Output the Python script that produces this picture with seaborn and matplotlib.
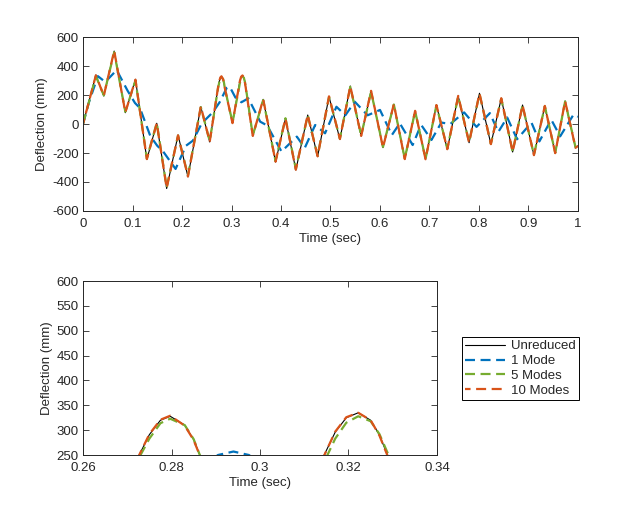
import numpy as np
import pandas as pd
import matplotlib
matplotlib.use("Agg")
import matplotlib.pyplot as plt
import seaborn as sns

sns.set_style("ticks", {"xtick.direction": "in", "ytick.direction": "in"})
plt.rcParams['font.family'] = ['Liberation Sans', 'DejaVu Sans']
plt.rcParams['axes.unicode_minus'] = False

# time (sec) and deflection (mm)
t_full = [0.000, 0.026, 0.042, 0.063, 0.0855, 0.106, 0.129, 0.149, 0.169, 0.192,
          0.212, 0.238, 0.256, 0.2727, 0.275, 0.2775, 0.2797, 0.283, 0.285, 0.2864,
          0.302, 0.3145, 0.317, 0.3195, 0.3222, 0.325, 0.327, 0.3288, 0.343, 0.364,
          0.389, 0.409, 0.430, 0.454, 0.474, 0.497, 0.519, 0.540, 0.562, 0.582,
          0.606, 0.628, 0.650, 0.671, 0.692, 0.714, 0.736, 0.758, 0.780, 0.801,
          0.824, 0.845, 0.868, 0.888, 0.911, 0.933, 0.954, 0.974, 0.995, 1.000]

unreduced = [0, 338, 193, 503, 78, 308, -244, 5, -445, -76,
             -364, 119, -124, 250, 291, 320, 328, 310, 281, 250,
             5, 250, 296, 325, 335, 320, 290, 250, -83, 170,
             -262, 37, -317, 62, -225, 190, -106, 262, -83, 228,
             -163, 136, -244, 90, -244, 131, -175, 193, -129, 212,
             -140, 177, -193, 131, -216, 124, -202, 159, -165, -150]

modes_10 = [0, 336, 195, 505, 80, 306, -242, 5, -442, -78,
            -362, 121, -122, 250, 292, 321, 329, 309, 280, 249,
            6, 249, 297, 326, 335, 320, 289, 249, -82, 171,
            -260, 38, -315, 63, -223, 191, -104, 261, -82, 229,
            -162, 137, -242, 91, -243, 131, -174, 194, -128, 211,
            -139, 178, -192, 130, -215, 125, -201, 158, -164, -152]

modes_5 = [0, 330, 198, 495, 85, 300, -238, 8, -436, -80,
           -356, 116, -118, 245, 283, 314, 323, 310, 282, 250,
           10, 236, 283, 315, 328, 318, 292, 255, -78, 165,
           -255, 40, -310, 60, -220, 186, -100, 256, -80, 224,
           -158, 134, -238, 88, -240, 128, -170, 190, -125, 208,
           -136, 174, -190, 128, -212, 122, -198, 155, -160, -150]

t_one = [0.000, 0.012, 0.030, 0.045, 0.068, 0.090, 0.105, 0.115, 0.136, 0.150,
         0.162, 0.187, 0.208, 0.222, 0.240, 0.262, 0.276, 0.2905, 0.294, 0.2975,
         0.308, 0.320, 0.334, 0.358, 0.372, 0.401, 0.432, 0.448, 0.469, 0.489,
         0.512, 0.530, 0.549, 0.575, 0.600, 0.624, 0.640, 0.666, 0.683, 0.704,
         0.724, 0.742, 0.770, 0.795, 0.822, 0.839, 0.857, 0.877, 0.906, 0.922,
         0.946, 0.964, 0.991, 1.000]
mode_1 = [0, 150, 330, 290, 372, 230, 145, 110, -83, -150,
          -190, -310, -150, -115, 5, 80, 150, 250, 257, 250,
          182, 150, 177, 16, -10, -190, -87, -165, -7, -64,
          119, 60, 154, 60, 97, -76, 5, -145, -5, -110,
          10, 0, 80, -20, 75, -55, 45, -105, 10, -120,
          30, -85, 65, 50]

series_names = ["Unreduced", "1 Mode", "5 Modes", "10 Modes"]
colors = ["black", "#0072BD", "#77AC30", "#D95319"]
axis_col = "#262626"
fs = 9.5

fig = plt.figure(figsize=(6.4, 5.12), dpi=100)
ax1 = fig.add_axes([0.1297, 0.5879, 0.7734, 0.3398])
ax2 = fig.add_axes([0.1297, 0.1113, 0.5531, 0.3398])

dash = (0, (4.5, 2.5))


def draw(ax):
    sns.lineplot(x=t_full, y=unreduced, ax=ax, color=colors[0], lw=0.8,
                 estimator=None, sort=False, label=series_names[0])
    sns.lineplot(x=t_one, y=mode_1, ax=ax, color=colors[1], lw=1.6,
                 linestyle=dash, estimator=None, sort=False, label=series_names[1])
    sns.lineplot(x=t_full, y=modes_5, ax=ax, color=colors[2], lw=1.6,
                 linestyle=dash, estimator=None, sort=False, label=series_names[2])
    sns.lineplot(x=t_full, y=modes_10, ax=ax, color=colors[3], lw=1.6,
                 linestyle=(2, (4.5, 2.5)), estimator=None, sort=False,
                 label=series_names[3])


for ax in (ax1, ax2):
    draw(ax)
    for ln in ax.get_lines():
        ln.set_solid_joinstyle("round")
        ln.set_dash_joinstyle("round")
    ax.set_xlabel("Time (sec)", fontsize=fs, color=axis_col, labelpad=2)
    ax.set_ylabel("Deflection (mm)", fontsize=fs, color=axis_col, labelpad=3)
    ax.tick_params(direction="in", top=True, right=True, length=4,
                   width=0.6, labelsize=fs, colors=axis_col, pad=3)
    ax.tick_params(axis="x", pad=5)
    for s in ax.spines.values():
        s.set_visible(True)
        s.set_color(axis_col)
        s.set_linewidth(0.7)

ax1.set_xlim(0, 1)
ax1.set_ylim(-600, 600)
ax1.set_xticks(np.arange(0, 1.01, 0.1))
ax1.set_xticklabels(["0", "0.1", "0.2", "0.3", "0.4", "0.5", "0.6", "0.7", "0.8", "0.9", "1"])
ax1.set_yticks(np.arange(-600, 601, 200))
ax1.get_legend().remove()

ax2.set_xlim(0.26, 0.34)
ax2.set_ylim(250, 600)
ax2.set_xticks([0.26, 0.28, 0.30, 0.32, 0.34])
ax2.set_xticklabels(["0.26", "0.28", "0.3", "0.32", "0.34"])
ax2.set_yticks(np.arange(250, 601, 50))

leg = ax2.legend(loc="center left", bbox_to_anchor=(1.07, 0.497), fontsize=fs,
                 frameon=True, fancybox=False, edgecolor="black", framealpha=1,
                 handlelength=3.0, handletextpad=0.5, labelspacing=0.2,
                 borderpad=0.25, borderaxespad=0)
leg.get_frame().set_linewidth(0.7)

fig.savefig("out.png", dpi=100, facecolor="white")
